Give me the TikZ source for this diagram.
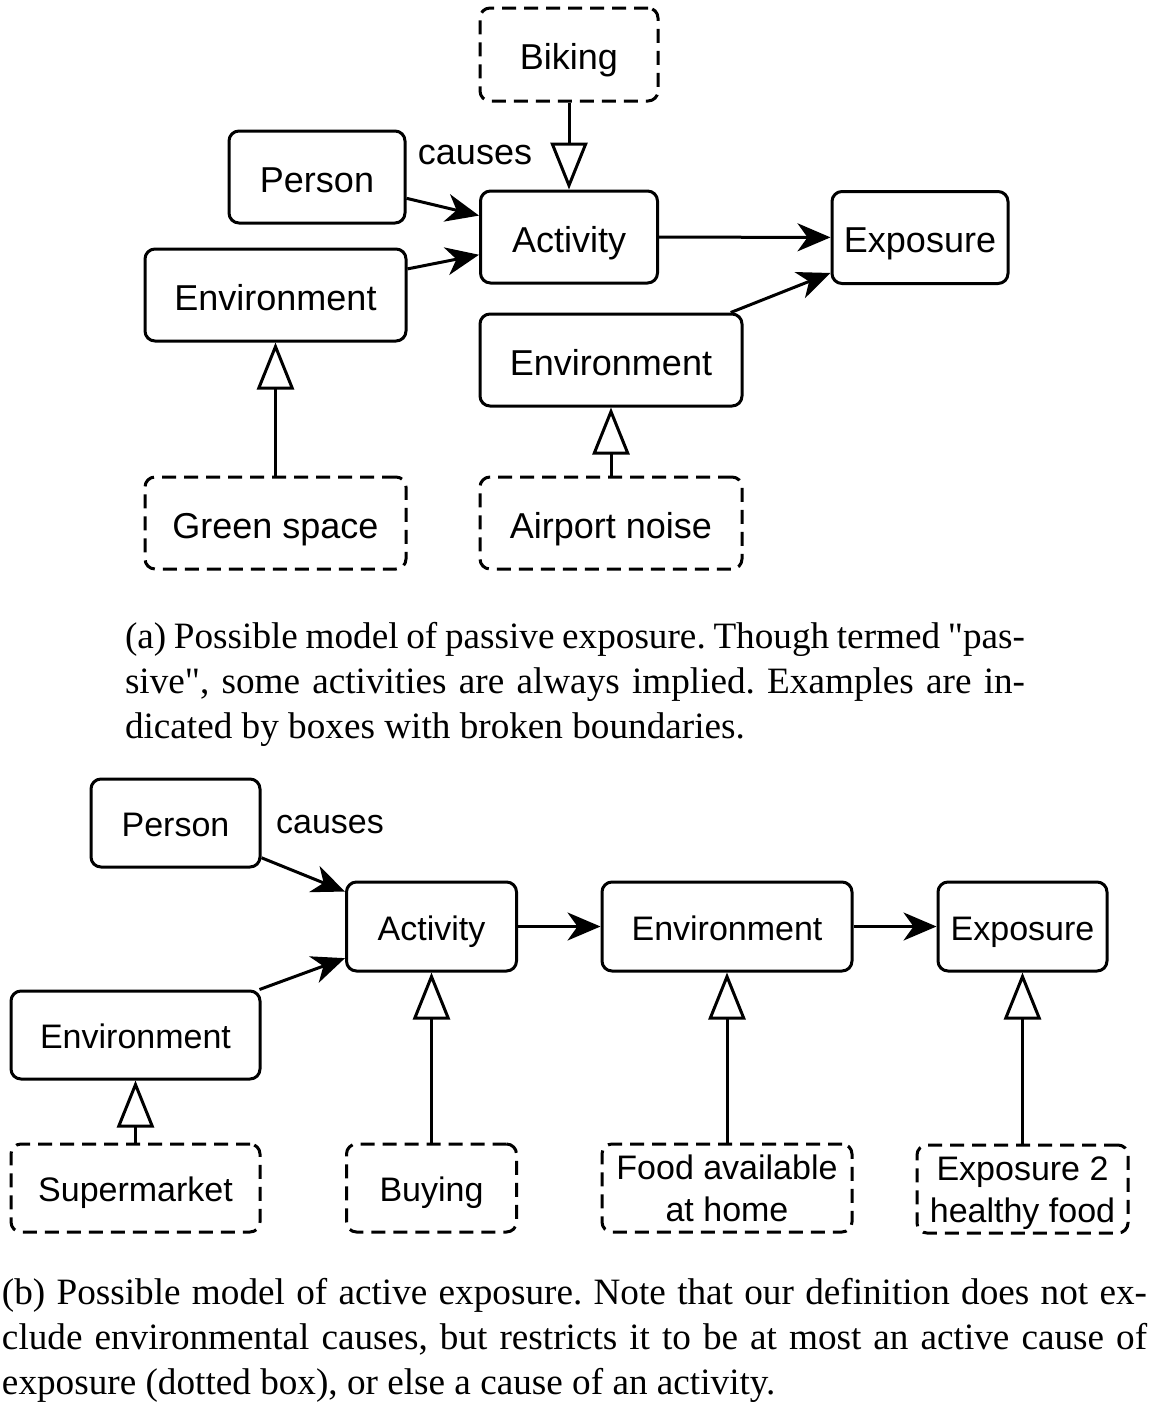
\documentclass[tikz,border=0pt]{standalone}
\usepackage{fontspec}
\setmainfont{Liberation Serif}[Ligatures=TeXOff]
\setsansfont{Liberation Sans}
\usetikzlibrary{arrows.meta}

\begin{document}
\frenchspacing
\begin{tikzpicture}[
  x=0.5pt, y=-0.5pt,
  box/.style={draw, rectangle, rounded corners=5pt, line width=1.5pt, inner sep=0pt, align=center, text height=15.3pt, text depth=0pt, font=\sffamily\fontsize{18}{21.6}\selectfont},
  boxb/.style={box, text height=13.8pt, font=\sffamily\fontsize{17}{21}\selectfont},
  twolines/.style={text height=33.4pt, text depth=0pt},
  example/.style={dash pattern=on 7pt off 4pt},
  flow/.style={-{Stealth[length=16.5pt, width=14pt, inset=5pt]}, line width=1.5pt},
  isa/.style={-{Triangle[open, length=23.5pt, width=18.5pt]}, line width=1.5pt},
  caption/.style={align=justify, inner sep=0pt, font=\rmfamily\fontsize{18.6}{22.5}\selectfont}
]
\useasboundingbox (0,0) rectangle (1149,1403);
\node[box, example, minimum width=89pt, minimum height=46.5pt] (biking) at (569,54.5) {Biking};
\node[box, minimum width=88pt, minimum height=46pt] (aperson) at (317,177) {Person};
\node[box, minimum width=88.5pt, minimum height=46pt] (aactivity) at (569,237) {Activity};
\node[box, minimum width=88pt, minimum height=46pt] (aexposure) at (920,237.5) {Exposure};
\node[box, minimum width=130.5pt, minimum height=46pt] (aenvleft) at (275.5,295) {Environment};
\node[box, minimum width=131pt, minimum height=46pt] (aenvright) at (611,360) {Environment};
\node[box, example, minimum width=130.5pt, minimum height=46pt] (green) at (275.5,523) {Green space};
\node[box, example, minimum width=131pt, minimum height=46pt] (noise) at (611,523) {Airport noise};
\node[font=\sffamily\fontsize{18}{21.6}\selectfont] (acauses) at (475,155) {causes};
\draw[flow] (aperson) -- (aactivity);
\draw[flow] (aenvleft) -- (aactivity);
\draw[flow] (aactivity) -- (aexposure);
\draw[flow] (aenvright) -- (aexposure);
\draw[isa] (biking) -- (aactivity);
\draw[isa] (green) -- (aenvleft);
\draw[isa] (noise) -- (aenvright);
\node[caption, text width=450pt] (capa) at (575,684) {(a) Possible model of passive exposure. Though termed "pas-\linebreak sive", some activities are always implied. Examples are in-\linebreak dicated by boxes with broken boundaries.};

\node[boxb, minimum width=84.5pt, minimum height=44pt] (bperson) at (175.5,823) {Person};
\node[boxb, minimum width=85pt, minimum height=44.5pt] (bactivity) at (431.5,926.5) {Activity};
\node[boxb, minimum width=125pt, minimum height=44.5pt] (benv) at (727,926.5) {Environment};
\node[boxb, minimum width=84.5pt, minimum height=44.5pt] (bexposure) at (1022.5,926.5) {Exposure};
\node[boxb, minimum width=124.5pt, minimum height=44pt] (benvleft) at (135.5,1035) {Environment};
\node[boxb, example, minimum width=124.5pt, minimum height=44pt] (market) at (135.5,1188) {Supermarket};
\node[boxb, example, minimum width=85pt, minimum height=44pt] (buying) at (431.5,1188) {Buying};
\node[boxb, example, twolines, minimum width=125pt, minimum height=44pt] (food) at (727,1188) {Food available\\at home};
\node[boxb, example, twolines, minimum width=105.5pt, minimum height=44pt] (healthy) at (1022.5,1189) {Exposure 2\\healthy food};
\node[font=\sffamily\fontsize{17}{21}\selectfont] (bcauses) at (330,825) {causes};
\draw[flow] (bperson) -- (bactivity);
\draw[flow] (benvleft) -- (bactivity);
\draw[flow] (bactivity) -- (benv);
\draw[flow] (benv) -- (bexposure);
\draw[isa] (market) -- (benvleft);
\draw[isa] (buying) -- (bactivity);
\draw[isa] (food) -- (benv);
\draw[isa] (healthy) -- (bexposure);
\node[caption, text width=572.5pt] (capb) at (574.5,1340) {(b) Possible model of active exposure. Note that our definition does not ex-\linebreak clude environmental causes, but restricts it to be at most an active cause of\linebreak exposure (dotted box), or else a cause of an activity.};
\end{tikzpicture}
\end{document}
